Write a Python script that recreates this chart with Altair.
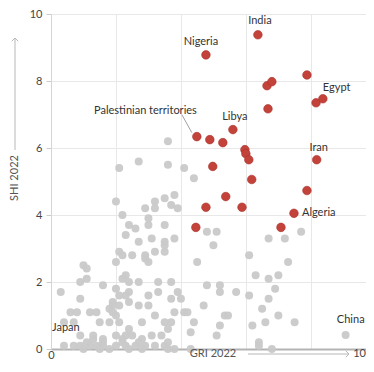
import altair as alt
import pandas as pd

# ---------------- data ----------------
gray_x = [3.6, 2.7, 2.1, 3.6, 4.1, 4.4,
          2.0, 3.2, 3.5, 3.8, 3.7, 3.9, 2.9, 3.2, 2.2,
          2.4, 2.6, 2.3, 2.7, 3.1, 3.5, 3.5, 3.8, 3.0, 3.0,
          2.1, 2.2, 2.5, 2.9, 2.9, 3.0, 3.2, 3.5, 3.5, 2.0,
          1.0, 1.1, 0.9, 1.1, 0.3, 1.6, 0.9,
          2.3, 2.2, 2.0, 2.4, 2.7, 3.3, 3.7,
          2.4, 2.3, 2.1, 1.9, 1.9, 2.1, 2.4,
          3.0, 3.3, 3.7, 3.9, 4.0, 2.7, 3.0,
          1.8, 1.9, 2.0, 0.6, 0.8, 1.2, 1.4,
          1.5, 1.8, 2.1, 0.4, 0.7, 2.8, 3.2, 3.5, 3.7, 3.8,
          3.6, 2.4, 3.1, 2.0, 2.2, 2.3, 0.9, 1.3, 1.6,
          0.4, 0.7, 0.9, 1.2, 1.4, 1.6, 2.0, 2.3, 2.6, 2.9, 3.2, 3.5,
          1.0, 1.5, 1.8, 2.4, 2.8, 3.6, 3.8,
          1.1, 1.6, 2.2, 2.7, 2.8,
          1.3, 2.5, 3.4,
          5.0, 4.5, 6.1, 6.7, 7.2, 7.3, 7.7, 4.8, 5.1,
          4.8, 5.2, 5.2, 5.7, 6.1, 6.3, 6.7, 7.0, 6.9, 6.7, 6.5, 7.0, 6.6, 6.2,
          4.1, 4.2, 4.7, 5.35, 5.45, 4.4, 5.2, 4.3, 5.1, 3.6, 4.3, 6.4, 6.4, 6.8, 7.5, 9.07]
gray_y = [6.2, 5.6, 5.4, 5.5, 5.4, 5.1,
          4.4, 4.4, 4.5, 4.6, 4.3, 4.2, 4.2, 4.2, 4.0,
          3.7, 3.6, 3.4, 3.2, 3.3, 3.7, 3.2, 3.3, 3.9, 3.7,
          2.9, 2.8, 2.8, 2.8, 2.7, 2.6, 2.9, 3.1, 2.9, 2.6,
          2.5, 2.4, 2.0, 2.1, 1.7, 1.9, 1.5,
          2.2, 2.1, 1.8, 2.0, 2.0, 2.0, 2.0,
          1.7, 1.6, 1.6, 1.4, 1.3, 1.3, 1.4,
          1.6, 1.7, 1.5, 1.7, 1.5, 1.3, 1.3,
          1.2, 1.1, 1.0, 1.1, 1.1, 1.1, 1.1,
          0.8, 0.8, 0.8, 0.8, 0.8, 0.8, 1.0, 0.8, 0.8, 1.1,
          0.6, 0.6, 0.4, 0.4, 0.3, 0.4, 0.4, 0.3, 0.3,
          0.1, 0.1, 0.1, 0.1, 0.1, 0.1, 0.1, 0.1, 0.1, 0.1, 0.1, 0.1,
          0.0, 0.0, 0.0, 0.0, 0.0, 0.0, 0.0,
          0.2, 0.2, 0.2, 0.2, 0.3,
          0.4, 0.4, 0.4,
          3.1, 2.6, 2.8, 3.3, 3.3, 2.6, 3.5, 3.5, 3.5,
          1.9, 1.9, 1.7, 1.7, 1.6, 2.2, 2.1, 2.2, 1.8, 1.5, 1.2, 1.0, 0.8, 0.7,
          1.1, 1.1, 1.3, 1.0, 1.0, 0.8, 0.7, 0.5, 0.4, 0.2, 0.0, 0.2, 0.1, 0.0, 0.8, 0.42]

red_x = [4.77, 6.37, 6.65, 6.8, 7.88, 8.16, 8.37, 6.68, 5.6, 4.49, 4.89, 5.29,
         5.97, 6.0, 6.09, 4.98, 6.18, 8.18, 7.88, 5.38, 4.77, 5.88, 7.48, 4.46, 7.08]
red_y = [8.78, 9.38, 7.86, 7.98, 8.18, 7.35, 7.47, 7.17, 6.55, 6.34, 6.25, 6.16,
         5.95, 5.83, 5.65, 5.45, 5.06, 5.65, 4.73, 4.55, 4.23, 4.23, 4.05, 3.63, 3.63]

label_names = ["Nigeria", "India", "Egypt", "Libya", "Palestinian territories",
               "Iran", "Algeria", "China", "Japan"]
label_x = [4.77, 6.37, 8.37, 5.6, 4.49, 8.18, 7.48, 9.07, 0.4]
label_y = [8.78, 9.38, 7.47, 6.55, 6.34, 5.65, 4.05, 0.42, 0.1]

x_ticks = list(range(0, 11))
y_ticks = [0, 2, 4, 6, 8, 10]
x_end_label = "10"
x_title = "GRI 2022"
y_title = "SHI 2022"

# ---------------- style ----------------
PX_PER_UNIT = 32.48          # horizontal scale of the reference
W, H = 315, 335              # plot area (the reference is cropped on the right)
FONT = "Lato"
GRAY = "#c9c9c9"
RED = "#c3423a"
TXT = "#333333"
ARROW = "#b8b8b8"

label_style = {
    "Nigeria": dict(align="center", dx=-5, dy=-13),
    "India": dict(align="center", dx=2, dy=-14),
    "Egypt": dict(align="left", dx=0, dy=-11),
    "Libya": dict(align="center", dx=2, dy=-13),
    "Palestinian territories": dict(align="right", dx=0, dy=-26),
    "Iran": dict(align="center", dx=2, dy=-12),
    "Algeria": dict(align="left", dx=8, dy=0),
    "China": dict(align="right", dx=19, dy=-15),
    "Japan": dict(align="left", dx=-12, dy=-18),
}

gray_df = pd.DataFrame({"x": gray_x, "y": gray_y})
red_df = pd.DataFrame({"x": red_x, "y": red_y})
lab_df = pd.DataFrame({"name": label_names, "x": label_x, "y": label_y})

xs = alt.Scale(domain=[0, round(W / PX_PER_UNIT, 3)], nice=False)
ys = alt.Scale(domain=[0, 10], nice=False)

x_axis = alt.Axis(values=x_ticks, title=None, ticks=False,
                  labelExpr="datum.value == 0 ? datum.label : ''",
                  labelFlush=False, labelOverlap=False, labelBound=False,
                  domainColor="#b3b3b3", domainWidth=2, gridColor="#e8e8e8",
                  labelPadding=0, labelColor="#444", labelFontSize=11, labelFont=FONT)
y_axis = alt.Axis(values=y_ticks, title=None, tickSize=5, tickColor="#cccccc",
                  domainColor="#d5d5d5", gridColor="#e8e8e8", labelPadding=4,
                  labelColor="#444", labelFontSize=11, labelFont=FONT)

gray = alt.Chart(gray_df).mark_circle(size=64, color=GRAY, opacity=0.95).encode(
    x=alt.X("x:Q", scale=xs, axis=x_axis),
    y=alt.Y("y:Q", scale=ys, axis=y_axis),
)

red = alt.Chart(red_df).mark_circle(size=74, color=RED, opacity=1,
                                     stroke="#a9332c", strokeWidth=0.6).encode(
    x=alt.X("x:Q", scale=xs),
    y=alt.Y("y:Q", scale=ys),
)

label_layers = []
for name in label_names:
    st = label_style[name]
    label_layers.append(
        alt.Chart(lab_df[lab_df["name"] == name]).mark_text(
            font=FONT, fontSize=11, color=TXT, align=st["align"],
            dx=st["dx"], dy=st["dy"], baseline="middle"
        ).encode(x=alt.X("x:Q", scale=xs), y=alt.Y("y:Q", scale=ys), text="name:N")
    )

leader = alt.Chart(lab_df[lab_df["name"] == "Palestinian territories"]).mark_rule(
    color="#888", strokeWidth=0.8, xOffset=-15, yOffset=-22, x2Offset=-5, y2Offset=-4
).encode(x=alt.X("x:Q", scale=xs), y=alt.Y("y:Q", scale=ys), x2="x:Q", y2="y:Q")

dummy = alt.Data(values=[{"a": 1}])

TY = 340  # vertical centre of the x title row (plot pixels)
x_title_mark = alt.Chart(dummy).mark_text(
    text=x_title, font=FONT, fontSize=11, color="#555", align="center", baseline="middle"
).encode(x=alt.value(162), y=alt.value(TY))
x_arrow = alt.Chart(dummy).mark_rule(color=ARROW, strokeWidth=1).encode(
    x=alt.value(197), x2=alt.value(298), y=alt.value(TY))
x_head = alt.Chart(dummy).mark_point(
    shape="M-1,-1L0,0L-1,1", filled=False, color=ARROW, size=40, strokeWidth=1, opacity=1
).encode(x=alt.value(298), y=alt.value(TY))
x_end = alt.Chart(dummy).mark_text(
    text=x_end_label, font=FONT, fontSize=11, color="#444", align="right", baseline="middle"
).encode(x=alt.value(W), y=alt.value(TY))

y_title_mark = alt.Chart(dummy).mark_text(
    text=y_title, font=FONT, fontSize=11, color="#555", angle=270,
    align="center", baseline="middle"
).encode(x=alt.value(-36), y=alt.value(164))
y_arrow = alt.Chart(dummy).mark_rule(color=ARROW, strokeWidth=1).encode(
    x=alt.value(-36), y=alt.value(136), y2=alt.value(24))
y_head = alt.Chart(dummy).mark_point(
    shape="M-1,1L0,0L1,1", filled=False, color=ARROW, size=40, strokeWidth=1, opacity=1
).encode(x=alt.value(-36), y=alt.value(24))

chart = alt.layer(
    gray, red, leader, *label_layers,
    x_title_mark, x_arrow, x_head, x_end, y_title_mark, y_arrow, y_head
).properties(
    width=W, height=H,
    padding={"left": 43, "top": 6, "right": 0, "bottom": 10},
    autosize=alt.AutoSizeParams(type="none"),
).configure_view(stroke=None)

chart.save("out.html", embed_options={"renderer": "svg", "actions": False})
